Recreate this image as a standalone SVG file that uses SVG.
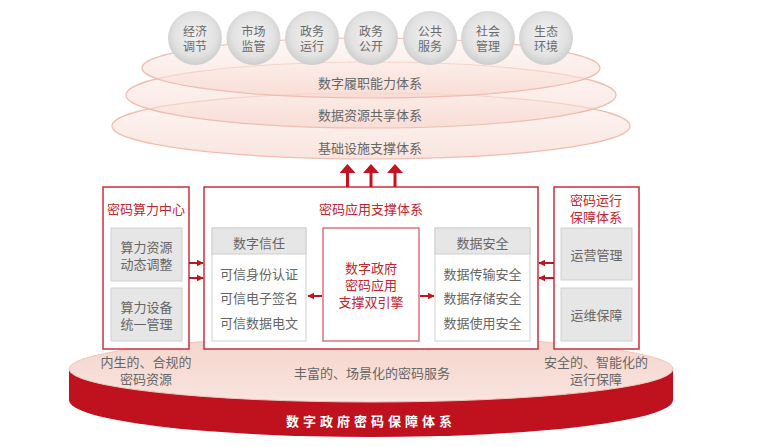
<svg xmlns="http://www.w3.org/2000/svg" width="761" height="447" viewBox="0 0 761 447">
<defs>
<style>
text{font-family:"Noto Sans CJK SC","Noto Sans",sans-serif;text-anchor:middle;dominant-baseline:central}
.g{fill:#666;font-size:13px}
.c{fill:#6a6a6a;font-size:12px}
.r{fill:#c1272d;font-size:13px}
.box{fill:#fff;stroke:#c8323a;stroke-width:1.5}
.gb{fill:#e6e6e6;stroke:#cfcfcf;stroke-width:1}
.wb{fill:#fff;stroke:#cfcfcf;stroke-width:1}
.ell{fill:url(#eg);stroke:#f0bcae;stroke-width:1.2}
.con{stroke:#c0141e;stroke-width:2;fill:none}
</style>
<radialGradient id="cg" cx="0.5" cy="0.45" r="0.55">
<stop offset="0" stop-color="#f2f2f2"/>
<stop offset="0.7" stop-color="#e2e2e2"/>
<stop offset="1" stop-color="#cdcdcd"/>
</radialGradient>
<linearGradient id="eg" x1="0" y1="0" x2="0" y2="1">
<stop offset="0" stop-color="#fdf3f0" stop-opacity="0.6"/>
<stop offset="1" stop-color="#f6d3c8" stop-opacity="0.6"/>
</linearGradient>
<linearGradient id="pg" x1="0" y1="0" x2="0" y2="1">
<stop offset="0" stop-color="#f5d5cc"/>
<stop offset="0.9" stop-color="#f8e2dc"/>
<stop offset="1" stop-color="#fbece7"/>
</linearGradient>
<marker id="ah" viewBox="0 0 10 10" refX="9" refY="5" markerWidth="7" markerHeight="8" markerUnits="userSpaceOnUse" orient="auto">
<path d="M0,0 L10,5 L0,10 Z" fill="#c0141e"/>
</marker>
</defs>

<g id="platform">
<path d="M69,369 L69,400 A302,37 0 0 0 673,400 L673,369 Z" fill="#c0111f"/>
<ellipse cx="371" cy="369" rx="302" ry="33" fill="url(#pg)" stroke="#f0c6ba" stroke-width="1"/>
<text x="371" y="420" fill="#fff" font-size="13" font-weight="bold" letter-spacing="4">数字政府密码保障体系</text>
<text class="g" x="372" y="372">丰富的、场景化的密码服务</text>
<text class="g" x="146" y="361">内生的、合规的</text>
<text class="g" x="146" y="378">密码资源</text>
<text class="g" x="596" y="361">安全的、智能化的</text>
<text class="g" x="596" y="378">运行保障</text>
</g>

<g id="layers">
<ellipse class="ell" cx="371" cy="126" rx="259" ry="33"/>
<ellipse class="ell" cx="371" cy="95" rx="245" ry="33"/>
<ellipse class="ell" cx="371" cy="68" rx="229" ry="30"/>
<text class="g" x="370" y="82">数字履职能力体系</text>
<text class="g" x="370" y="114">数据资源共享体系</text>
<text class="g" x="370" y="147">基础设施支撑体系</text>
</g>

<g id="c1"><circle cx="195" cy="38" r="27" fill="url(#cg)"/><text class="c" x="195" y="30.5">经济</text><text class="c" x="195" y="45.5">调节</text></g>
<g id="c2"><circle cx="253.5" cy="38" r="27" fill="url(#cg)"/><text class="c" x="253.5" y="30.5">市场</text><text class="c" x="253.5" y="45.5">监管</text></g>
<g id="c3"><circle cx="312" cy="38" r="27" fill="url(#cg)"/><text class="c" x="312" y="30.5">政务</text><text class="c" x="312" y="45.5">运行</text></g>
<g id="c4"><circle cx="371" cy="38" r="27" fill="url(#cg)"/><text class="c" x="371" y="30.5">政务</text><text class="c" x="371" y="45.5">公开</text></g>
<g id="c5"><circle cx="430" cy="38" r="27" fill="url(#cg)"/><text class="c" x="430" y="30.5">公共</text><text class="c" x="430" y="45.5">服务</text></g>
<g id="c6"><circle cx="488" cy="38" r="27" fill="url(#cg)"/><text class="c" x="488" y="30.5">社会</text><text class="c" x="488" y="45.5">管理</text></g>
<g id="c7"><circle cx="546" cy="38" r="27" fill="url(#cg)"/><text class="c" x="546" y="30.5">生态</text><text class="c" x="546" y="45.5">环境</text></g>

<g id="left">
<rect class="box" x="103" y="187" width="86" height="162"/>
<text class="r" x="146" y="208">密码算力中心</text>
<rect class="gb" x="111" y="228" width="71" height="53"/>
<text class="g" x="146.5" y="246">算力资源</text>
<text class="g" x="146.5" y="263">动态调整</text>
<rect class="gb" x="111" y="288" width="71" height="53"/>
<text class="g" x="146.5" y="306">算力设备</text>
<text class="g" x="146.5" y="323">统一管理</text>
</g>

<g id="center">
<rect class="box" x="204" y="187" width="334" height="162"/>
<text class="r" x="371" y="208">密码应用支撑体系</text>
</g>

<g id="trust">
<rect class="wb" x="212" y="228" width="94" height="113"/>
<rect class="gb" x="212" y="228" width="94" height="26"/>
<text class="g" x="259" y="242">数字信任</text>
<text class="g" x="259" y="273">可信身份认证</text>
<text class="g" x="259" y="297">可信电子签名</text>
<text class="g" x="259" y="322">可信数据电文</text>
</g>

<g id="engine">
<rect x="323" y="228" width="96" height="113" fill="#fff" stroke="#d0525a" stroke-width="1.2"/>
<text class="r" x="371" y="267">数字政府</text>
<text class="r" x="371" y="284">密码应用</text>
<text class="r" x="371" y="301">支撑双引擎</text>
</g>

<g id="datasec">
<rect class="wb" x="435" y="228" width="95" height="113"/>
<rect class="gb" x="435" y="228" width="95" height="26"/>
<text class="g" x="482.5" y="242">数据安全</text>
<text class="g" x="482.5" y="273">数据传输安全</text>
<text class="g" x="482.5" y="297">数据存储安全</text>
<text class="g" x="482.5" y="322">数据使用安全</text>
</g>

<g id="right">
<rect class="box" x="554" y="187" width="85" height="162"/>
<text class="r" x="596" y="199">密码运行</text>
<text class="r" x="596" y="216">保障体系</text>
<rect class="gb" x="561" y="228" width="71" height="52"/>
<text class="g" x="596.5" y="254">运营管理</text>
<rect class="gb" x="561" y="288" width="71" height="53"/>
<text class="g" x="596.5" y="314">运维保障</text>
</g>

<g id="connectors">
<line class="con" x1="189" y1="263" x2="203" y2="263" marker-end="url(#ah)"/>
<line class="con" x1="189" y1="278" x2="203" y2="278" marker-end="url(#ah)"/>
<line class="con" x1="554" y1="263" x2="539" y2="263" marker-end="url(#ah)"/>
<line class="con" x1="554" y1="278" x2="539" y2="278" marker-end="url(#ah)"/>
<line class="con" x1="322" y1="296" x2="308" y2="296" marker-end="url(#ah)"/>
<line class="con" x1="420" y1="296" x2="434" y2="296" marker-end="url(#ah)"/>
<path d="M346,187 V173 H339.5 L347.5,164 L355.5,173 H349 V187 Z" fill="#c0141e"/>
<path d="M369.5,187 V173 H363 L371,164 L379,173 H372.5 V187 Z" fill="#c0141e"/>
<path d="M393.5,187 V173 H387 L395,164 L403,173 H396.5 V187 Z" fill="#c0141e"/>
</g>
</svg>
